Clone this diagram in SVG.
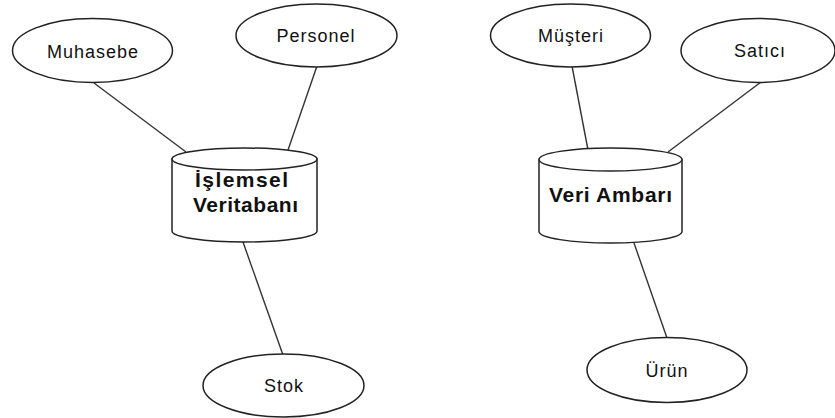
<svg xmlns="http://www.w3.org/2000/svg" width="835" height="418" viewBox="0 0 835 418">
<style>
.shape{fill:#fff;stroke:#222;stroke-width:1.5}
.conn line{stroke:#333;stroke-width:1.4}
.lbl{font-family:"Liberation Sans",Arial,sans-serif;font-size:18px;letter-spacing:1px;fill:#111;text-anchor:middle}
.db{font-family:"Liberation Sans",Arial,sans-serif;font-size:21px;font-weight:bold;fill:#111;text-anchor:middle}
</style>
<rect width="835" height="418" fill="#fff"/>
<g id="connectors" class="conn">
<line x1="94" y1="83" x2="186" y2="152"/>
<line x1="317" y1="66" x2="288" y2="150"/>
<line x1="243" y1="242" x2="283" y2="355"/>
<line x1="572" y1="66" x2="588" y2="150"/>
<line x1="761" y1="82" x2="668" y2="152"/>
<line x1="634" y1="243" x2="667" y2="338"/>
</g>
<g id="muhasebe"><ellipse class="shape" cx="92.5" cy="50.5" rx="80" ry="32"/><text class="lbl" x="93" y="58">Muhasebe</text></g>
<g id="personel"><ellipse class="shape" cx="316.5" cy="35.5" rx="80.5" ry="31.5"/><text class="lbl" x="316" y="42">Personel</text></g>
<g id="musteri"><ellipse class="shape" cx="570.5" cy="35.5" rx="80" ry="31.5"/><text class="lbl" x="571" y="42">Müşteri</text></g>
<g id="satici"><ellipse class="shape" cx="758" cy="50.5" rx="77" ry="32"/><text class="lbl" x="760" y="57">Satıcı</text></g>
<g id="stok"><ellipse class="shape" cx="283.5" cy="385.5" rx="80.5" ry="31.5"/><text class="lbl" x="284" y="392">Stok</text></g>
<g id="urun"><ellipse class="shape" cx="667" cy="370" rx="80" ry="32.5"/><text class="lbl" x="667" y="377">Ürün</text></g>
<g id="islemsel-veritabani">
<path class="shape" d="M172 159 V231 A72.5 11 0 0 0 317 231 V159 Z"/>
<ellipse class="shape" cx="244.5" cy="159" rx="72.5" ry="11"/>
<text class="db" x="241.5" y="187" textLength="93" lengthAdjust="spacing">İşlemsel</text>
<text class="db" x="245.5" y="212" textLength="105" lengthAdjust="spacing">Veritabanı</text>
</g>
<g id="veri-ambari">
<path class="shape" d="M539 159.5 V231.5 A71.5 11.5 0 0 0 682 231.5 V159.5 Z"/>
<ellipse class="shape" cx="610.5" cy="159.5" rx="71.5" ry="11.5"/>
<text class="db" x="610.5" y="202" textLength="123" lengthAdjust="spacing">Veri Ambarı</text>
</g>
</svg>
